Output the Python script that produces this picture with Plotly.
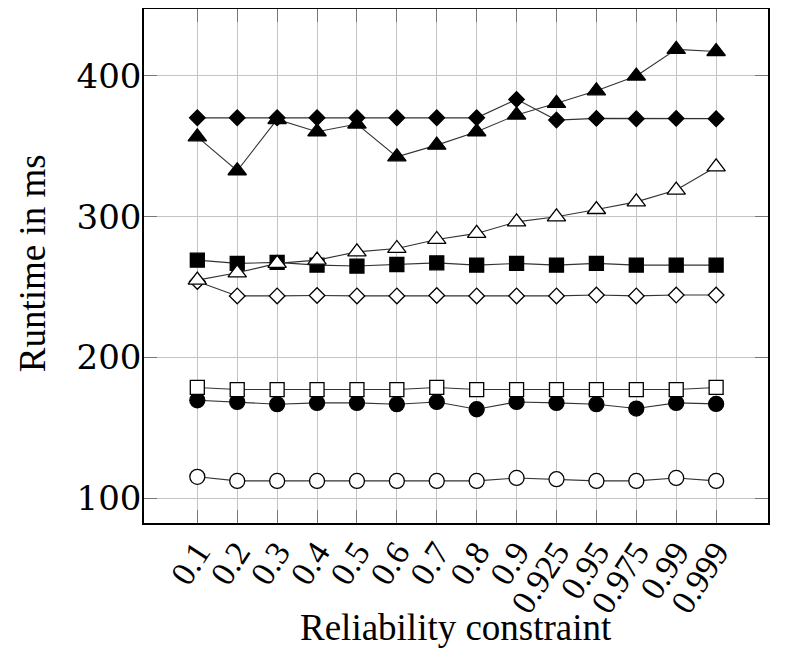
import plotly.graph_objects as go

categories = ["0.1", "0.2", "0.3", "0.4", "0.5", "0.6", "0.7", "0.8", "0.9",
              "0.925", "0.95", "0.975", "0.99", "0.999"]

filled_circle = [169.6, 168.4, 166.8, 167.7, 167.7, 166.8, 168.4, 163.2, 168.4, 167.7, 166.8, 163.7, 167.7, 167.0]
open_circle = [115.2, 112.3, 112.3, 112.3, 112.3, 112.3, 112.3, 112.3, 114.4, 113.5, 112.3, 112.3, 114.4, 112.3]
open_square = [178.7, 177.2, 177.2, 177.2, 177.2, 177.2, 178.7, 177.2, 177.2, 177.2, 177.2, 177.2, 177.2, 178.7]
filled_square = [269.1, 266.8, 267.5, 265.6, 264.9, 266.0, 267.2, 265.6, 266.8, 265.6, 266.8, 265.6, 265.6, 265.6]
open_diamond = [254.0, 243.7, 243.7, 244.0, 243.7, 243.7, 244.0, 243.7, 243.7, 243.7, 244.3, 243.7, 244.3, 244.3]
open_triangle = [254.9, 260.1, 266.8, 269.1, 275.0, 277.4, 283.8, 288.1, 296.3, 299.9, 305.1, 310.5, 318.9, 335.4]
filled_diamond = [370.2, 370.2, 370.2, 370.2, 370.2, 370.2, 370.2, 370.2, 383.3, 368.6, 369.8, 369.6, 369.8, 369.6]
filled_triangle = [356.7, 332.6, 369.0, 360.3, 365.8, 342.5, 350.8, 360.3, 372.2, 380.5, 389.4, 399.9, 418.8, 417.3]

y_ticks = [100, 200, 300, 400]

series = [
    (filled_circle, "circle", "black", 15),
    (open_circle, "circle", "white", 15),
    (open_square, "square", "white", 14),
    (filled_square, "square", "black", 14),
    (open_diamond, "diamond", "white", 12),
    (open_triangle, "triangle-up", "white", 16),
    (filled_diamond, "diamond", "black", 12),
    (filled_triangle, "triangle-up", "black", 16),
]

fig = go.Figure()
for vals, sym, fill, size in series:
    fig.add_trace(go.Scatter(
        x=categories, y=vals, mode="lines+markers",
        line=dict(color="#333333", width=1.1),
        marker=dict(symbol=sym, color=fill, size=size,
                    line=dict(color="black", width=1.3)),
        showlegend=False, hoverinfo="skip",
    ))

# page body has an 8px margin: figure starts at (8, 8) in the window
OFF = 8
W, H = 809 - OFF, 653 - OFF
L, R, T, B = 144 - OFF, 768 - OFF, 1, 522.7 - OFF
pw, ph = R - L, B - T

fig.update_layout(
    width=W, height=H,
    margin=dict(l=L, r=W - R, t=T, b=H - B, autoexpand=False),
    paper_bgcolor="white", plot_bgcolor="white",
    font=dict(family="Liberation Serif", color="black"),
    annotations=[
        dict(text="Reliability constraint", xref="paper", yref="paper",
             x=0.5, y=(B - (627 - OFF)) / ph, xanchor="center", yanchor="middle",
             showarrow=False, font=dict(family="Liberation Serif", size=37)),
        dict(text="Runtime in ms", xref="paper", yref="paper",
             x=(32 - OFF - L) / pw, y=(B - (263 - OFF)) / ph, xanchor="center", yanchor="middle",
             textangle=-90, showarrow=False,
             font=dict(family="Liberation Serif", size=37)),
    ],
)
fig.update_xaxes(
    type="category", range=[-1.336, 14.30], automargin=False,
    tickvals=categories, ticktext=categories,
    tickangle=-57, tickfont=dict(family="Liberation Serif", size=34),
    ticklabelstandoff=-6,
    showgrid=True, gridcolor="#c4c4c4", gridwidth=1,
    ticks="inside", ticklen=13, tickcolor="#777777", tickwidth=1,
    showline=True, linecolor="black", linewidth=1.5, mirror="ticks",
    zeroline=False,
)
fig.update_yaxes(
    range=[82.4, 447.5], tickvals=y_ticks, automargin=False,
    tickfont=dict(family="DejaVu Serif", size=34),
    ticklabelstandoff=-6,
    showgrid=True, gridcolor="#c4c4c4", gridwidth=1,
    ticks="inside", ticklen=13, tickcolor="#777777", tickwidth=1,
    showline=True, linecolor="black", linewidth=1.5, mirror="ticks",
    zeroline=False,
)

fig.write_html("out.html")
